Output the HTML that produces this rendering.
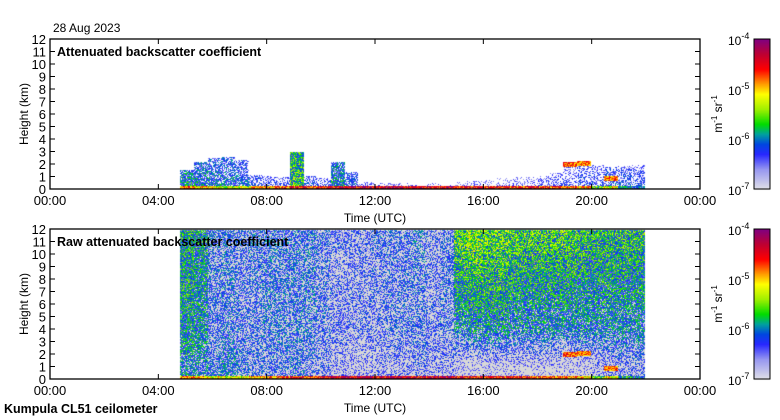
<!DOCTYPE html>
<html><head><meta charset="utf-8">
<style>
html,body{margin:0;padding:0;background:#fff;width:780px;height:420px;overflow:hidden}
#root{position:relative;width:780px;height:420px;font-family:"Liberation Sans",sans-serif}
canvas{position:absolute;left:0;top:0}
svg{position:absolute;left:0;top:0}
</style></head>
<body>
<div id="root">
<canvas id="cv" width="780" height="420"></canvas>
<svg id="sv" width="780" height="420"></svg>
</div>
<script>
// ---- data (~30-min bins starting 04:48 UTC) ----
const binStartHour = 4.8;
const binHours = 0.505;
// top panel: signal top height (km) and log10 backscatter near base
const topKm  = [1.6,2.2,2.5,2.6,2.4,1.2,1.1,1.0,3.0,1.1,0.9,2.2,1.4,0.6,0.5,0.5,0.5,0.4,0.5,0.4,0.7,0.8,0.8,0.9,1.0,1.0,1.1,1.3,2.0,2.2,2.0,1.8,1.9,2.0];
const topLog = [-6.0,-6.1,-6.2,-6.2,-6.3,-6.4,-6.5,-6.5,-5.6,-6.4,-6.5,-6.0,-6.3,-6.6,-6.6,-6.7,-6.7,-6.7,-6.7,-6.7,-6.8,-6.7,-6.8,-6.8,-6.7,-6.7,-6.6,-6.6,-6.6,-6.5,-6.5,-6.4,-6.4,-6.5];
// elevated layer (km, log10; 0 = none)
const layerKm  = [0,0,0,0,0,0,0,0,0,0,0,0,0,0,0,0,0,0,0,0,0,0,0,0,0,0,0,0,2.0,2.1,0,0.9,0,0];
const layerLog = [-7,-7,-7,-7,-7,-7,-7,-7,-7,-7,-7,-7,-7,-7,-7,-7,-7,-7,-7,-7,-7,-7,-7,-7,-7,-7,-7,-7,-4.7,-4.8,-7,-4.8,-7,-7];
// ground layer log10
const groundLog = [-4.8,-5.0,-5.2,-5.3,-5.3,-5.0,-4.9,-4.7,-4.5,-4.6,-4.5,-4.4,-4.4,-4.3,-4.4,-4.3,-4.4,-4.4,-4.4,-4.3,-4.5,-4.5,-4.6,-4.6,-4.6,-4.6,-4.6,-4.7,-4.8,-5.0,-5.6,-5.2,-5.8,-6.1];
// bottom panel (raw): log10 at 11 km, 4 km, 1 km
const rawUpper = [-5.9,-6.0,-6.4,-6.4,-6.5,-6.4,-6.4,-6.4,-6.4,-6.4,-6.5,-6.6,-6.6,-6.6,-6.5,-6.5,-6.5,-6.4,-6.6,-6.5,-5.6,-5.5,-5.6,-5.6,-5.7,-5.7,-5.7,-5.7,-5.7,-5.8,-5.8,-5.8,-5.8,-5.8];
const rawMid   = [-6.0,-6.1,-6.5,-6.4,-6.5,-6.5,-6.4,-6.4,-6.4,-6.4,-6.5,-6.6,-6.6,-6.6,-6.6,-6.5,-6.5,-6.5,-6.6,-6.5,-6.2,-6.1,-6.1,-6.1,-6.2,-6.2,-6.2,-6.2,-6.2,-6.2,-6.2,-6.2,-6.2,-6.2];
const rawLow   = [-6.2,-6.3,-6.4,-6.3,-6.4,-6.5,-6.5,-6.5,-6.4,-6.5,-6.6,-6.7,-6.8,-6.8,-6.7,-6.7,-6.7,-6.6,-6.7,-6.7,-6.9,-6.9,-6.9,-6.9,-6.9,-6.9,-6.9,-6.9,-6.9,-6.9,-6.8,-6.7,-6.6,-6.6];
const yTicks = [0,1,2,3,4,5,6,7,8,9,10,11,12];
const xTickLabels = ["00:00","04:00","08:00","12:00","16:00","20:00","00:00"];
const xTickHours = [0,4,8,12,16,20,24];
const cbLabels = ["-4","-5","-6","-7"];

// ---- geometry ----
const PX0=50, PX1=700;
const panels=[{y0:39,y1:189,title:"Attenuated backscatter coefficient",raw:false},
              {y0:229,y1:379,title:"Raw attenuated backscatter coefficient",raw:true}];
const CBX0=754, CBX1=770;
const xs=h=>PX0+(PX1-PX0)*h/24;
const ys=(p,km)=>p.y1-(p.y1-p.y0)*km/12;

const stops=[[-7.0,[224,224,232]],[-6.6,[150,150,240]],[-6.3,[40,40,255]],[-6.1,[0,70,225]],[-5.9,[0,160,160]],[-5.7,[0,220,0]],[-5.4,[160,240,0]],[-5.1,[255,255,0]],[-4.9,[255,160,0]],[-4.6,[255,0,0]],[-4.3,[190,0,50]],[-4.0,[128,0,128]]];
function cmap(v){
  if(v<=stops[0][0]) return stops[0][1];
  for(let i=1;i<stops.length;i++){ if(v<=stops[i][0]){const a=stops[i-1],b=stops[i],t=(v-a[0])/(b[0]-a[0]);return a[1].map((c,k)=>Math.round(c+(b[1][k]-c)*t));}}
  return stops[stops.length-1][1];
}
function tex(x,y){let h=(x*374761393+y*668265263)>>>0;h=((h^(h>>>13))*1274126177)>>>0;return ((h%1000)/1000)-0.5;}

const cv=document.getElementById('cv'),ctx=cv.getContext('2d');
const img=ctx.createImageData(780,420),D=img.data;
function put(x,y,c){const i=(y*780+x)*4;D[i]=c[0];D[i+1]=c[1];D[i+2]=c[2];D[i+3]=255;}
const nb=topKm.length;
for(const p of panels){
  const xa=Math.round(xs(binStartHour)), xb=Math.round(xs(binStartHour+nb*binHours));
  for(let x=xa;x<xb;x++){
    const hr=(x-PX0)/(PX1-PX0)*24;
    const b=Math.min(nb-1,Math.max(0,Math.floor((hr-binStartHour)/binHours)));
    for(let y=p.y0+1;y<p.y1;y++){
      const km=(p.y1-y)/(p.y1-p.y0)*12;
      const n=tex(x,y);
      let v=null;
      if(km<0.3) v=groundLog[b]+n*1.0;
      else if(layerKm[b]>0 && Math.abs(km-layerKm[b])<0.2) v=layerLog[b]+n*0.8;
      else if(p.raw){
        let base;
        if(km<1) base=rawLow[b]; else if(km<4) base=rawLow[b]+(rawMid[b]-rawLow[b])*(km-1)/3;
        else base=rawMid[b]+(rawUpper[b]-rawMid[b])*Math.min(1,(km-4)/7);
        v=base+n*1.2;
        if(v<-6.55){put(x,y,[216,216,216]);continue;}
      } else if(km<topKm[b]){
        v=topLog[b]+n*1.2-(km/topKm[b])*0.3;
        if(v<-6.65){continue;}
      }
      if(v!==null) put(x,y,cmap(v));
    }
  }
  // colorbar
  for(let y=p.y0;y<=p.y1;y++){const v=-7+3*(p.y1-y)/(p.y1-p.y0);const c=cmap(v);for(let x=CBX0;x<CBX1;x++)put(x,y,c);}
}
ctx.putImageData(img,0,0);

// ---- axes (SVG) ----
const NS="http://www.w3.org/2000/svg",sv=document.getElementById('sv');
function el(tag,attrs,parent,txt){const e=document.createElementNS(NS,tag);for(const k in attrs)e.setAttribute(k,attrs[k]);if(txt!==undefined)e.textContent=txt;(parent||sv).appendChild(e);return e;}
const dt=el('text',{x:53,y:32,'font-size':12,fill:'#000'},sv,"28 Aug 2023");


panels.forEach((p,pi)=>{
  const g=el('g',{},sv);
  
  
  const fr=el('rect',{x:PX0,y:p.y0,width:PX1-PX0,height:p.y1-p.y0,fill:'none',stroke:'#000','stroke-width':1.3},g);
  
  
  yTicks.forEach(t=>{
    const y=ys(p,t);
    el('line',{x1:PX0,x2:PX0+5,y1:y,y2:y,stroke:'#000'},g);
    el('line',{x1:PX1-5,x2:PX1,y1:y,y2:y,stroke:'#000'},g);
    const tl=el('text',{x:46,y:y+5,'font-size':13,'text-anchor':'end',fill:'#000'},g,String(t));
    
    
  });
  xTickHours.forEach((h,i)=>{
    const x=xs(h);
    el('line',{x1:x,x2:x,y1:p.y1,y2:p.y1-5,stroke:'#000'},g);
    el('line',{x1:x,x2:x,y1:p.y0,y2:p.y0+5,stroke:'#000'},g);
    const xl=el('text',{x:x,y:p.y1+16,'font-size':13,'text-anchor':'middle',fill:'#000'},g,xTickLabels[i]);
    
    
  });
  const tt=el('text',{x:57,y:p.y0+17,'font-size':12.5,'font-weight':'bold',fill:'#000'},g,p.title);
  
  
  const yt=el('text',{x:0,y:0,'font-size':12,'text-anchor':'middle',fill:'#000',transform:`translate(28,${(p.y0+p.y1)/2}) rotate(-90)`},g,"Height (km)");
  
  
  const xt=el('text',{x:375,y:p.y1+33,'font-size':12,'text-anchor':'middle',fill:'#000'},g,"Time (UTC)");
  
  
  const cb=el('rect',{x:CBX0,y:p.y0,width:CBX1-CBX0,height:p.y1-p.y0,fill:'none',stroke:'#000'},g);
  
  
  cbLabels.forEach((l,i)=>{
    const y=p.y0+i*(p.y1-p.y0)/3;
    const t=el('text',{x:728,y:y+6,'font-size':12,fill:'#000'},g,"10");
    el('tspan',{dy:-6,'font-size':9},t,l);
    
    
  });
  const ut=el('text',{x:0,y:0,'font-size':12,'text-anchor':'middle',fill:'#000',transform:`translate(722,${(p.y0+p.y1)/2}) rotate(-90)`},g,"m");
  el('tspan',{dy:-5,'font-size':8},ut,"-1");
  el('tspan',{dy:5},ut," sr");
  el('tspan',{dy:-5,'font-size':8},ut,"-1");
  
  
});
const ft=el('text',{x:4,y:413,'font-size':12.5,'font-weight':'bold',fill:'#000'},sv,"Kumpula CL51 ceilometer");


</script>
</body></html>
